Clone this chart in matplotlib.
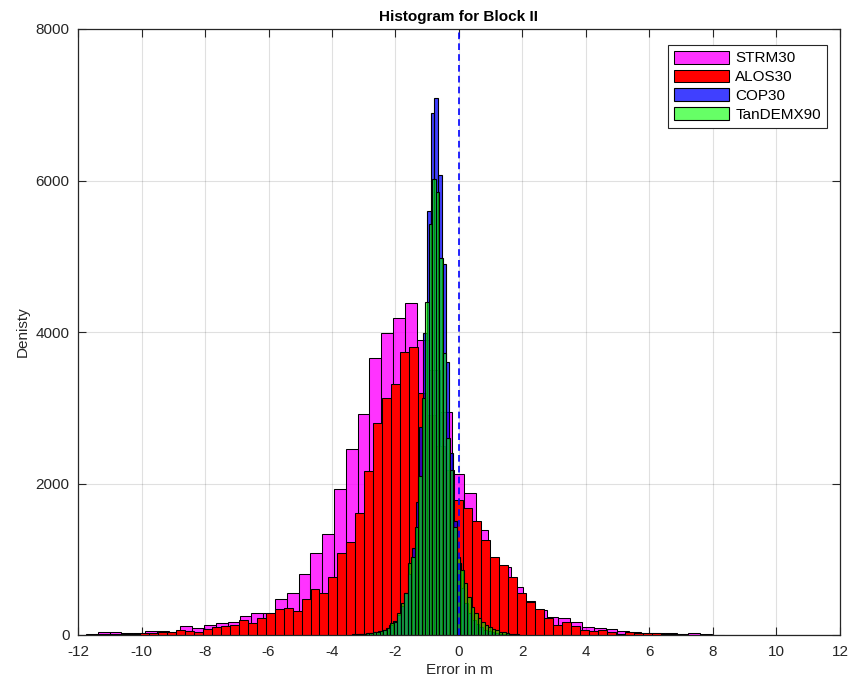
import numpy as np
import matplotlib
matplotlib.use('Agg')
import matplotlib.pyplot as plt

# ---------------- data ----------------
series_names = ['STRM30', 'ALOS30', 'COP30', 'TanDEMX90']

# STRM30 : first bin edge, bin width, counts
strm_start = -11.748
strm_width = 0.372
strm_counts = [13, 35, 35, 30, 30, 57, 57, 44, 119, 88, 132, 154, 176, 251, 286, 295,
               471, 550, 801, 1087, 1333, 1923, 2451, 2913, 3661, 3991, 4180, 4378,
               3894, 3500, 2950, 2125, 1870, 1380, 1000, 900, 640, 450, 330, 240, 220,
               176, 110, 90, 75, 53, 45, 31, 31, 20, 15, 22, 8, 6, 5, 4, 3, 3, 2, 2,
               1, 2, 1, 1]

# ALOS30
alos_start = -11.752
alos_width = 0.283
alos_counts = [6, 8, 10, 12, 15, 18, 20, 30, 40, 44, 60, 57, 40, 75, 101, 119, 132,
               200, 163, 220, 290, 340, 350, 320, 471, 603, 559, 770, 1087, 1232,
               1615, 2165, 2794, 3124, 3313, 3740, 3806, 3190, 2900, 2500, 2178, 1782,
               1672, 1509, 1254, 1026, 924, 770, 559, 440, 339, 220, 132, 176, 119, 66,
               57, 66, 44, 13, 44, 30, 25, 20, 15, 10, 8, 5, 4, 3, 2]

# COP30
cop_start = -3.373
cop_width = 0.118
cop_counts = [8, 10, 12, 15, 20, 28, 38, 50, 70, 95, 130, 180, 260, 380, 560, 800,
              1150, 1750, 2750, 3983, 5597, 6887, 7085, 6073, 4900, 3600, 2400, 1500,
              950, 620, 420, 290, 200, 140, 100, 70, 50, 35, 25, 18, 12, 8, 5]

# TanDEMX90
tdx_start = -3.155
tdx_width = 0.11
tdx_counts = [15, 18, 22, 28, 35, 42, 50, 66, 92, 158, 176, 290, 420, 550, 950, 1030,
              1430, 2100, 3130, 4400, 5426, 6020, 5853, 4981, 3723, 2600, 2178, 1430,
              1034, 858, 682, 506, 374, 286, 224, 170, 130, 100, 80, 60, 45, 35, 25,
              18, 12, 8]

x_ticks = list(range(-12, 13, 2))
y_ticks = [0, 2000, 4000, 6000, 8000]

# ---------------- styling ----------------
plt.rcParams['font.family'] = ['Liberation Sans', 'DejaVu Sans']
plt.rcParams['axes.unicode_minus'] = False
axis_gray = (0.15, 0.15, 0.15)

fig = plt.figure(figsize=(8.53, 6.82), dpi=100)
ax = fig.add_axes([78/853, 47/682, 762/853, 606/682])

styles = [
    (1.0, 0.0, 1.0, 0.8),
    (1.0, 0.0, 0.0, 1.0),
    (0.0, 0.0, 1.0, 0.75),
    (0.0, 1.0, 0.0, 0.6),
]
line_widths = [0.75, 0.75, 0.8, 0.8]
data = [(strm_start, strm_width, strm_counts),
        (alos_start, alos_width, alos_counts),
        (cop_start, cop_width, cop_counts),
        (tdx_start, tdx_width, tdx_counts)]

for name, fc, lw, (start, w, counts) in zip(series_names, styles, line_widths, data):
    edges = start + w * np.arange(len(counts))
    ax.bar(edges, counts, width=w, align='edge', facecolor=fc,
           edgecolor=(0, 0, 0, 1), linewidth=lw, label=name, zorder=2)

ax.axvline(0, color=(0, 0, 1), linestyle=(0, (4, 2.5)), linewidth=1.2, zorder=3)

ax.set_xlim(-12, 12)
ax.set_ylim(0, 8000)
ax.set_xticks(x_ticks)
ax.set_yticks(y_ticks)
ax.grid(True, color=(0, 0, 0), alpha=0.12, linewidth=0.8)
ax.set_axisbelow(True)
ax.tick_params(direction='in', length=5.5, width=0.8, colors=axis_gray,
               labelsize=11, top=True, right=True)
ax.tick_params(axis='x', pad=7)
ax.tick_params(axis='y', pad=6)
for sp in ax.spines.values():
    sp.set_color(axis_gray)
    sp.set_linewidth(0.9)

ax.set_title('Histogram for Block II', fontsize=11, fontweight='bold', pad=6)
ax.set_xlabel('Error in m', fontsize=11, color=axis_gray, labelpad=3)
ax.set_ylabel('Denisty', fontsize=11, color=axis_gray, labelpad=4)

leg = ax.legend(loc='upper right', bbox_to_anchor=((827 - 78) / 762, 0.974), fontsize=11,
                frameon=True, fancybox=False, framealpha=1, edgecolor=axis_gray,
                handlelength=3.6, handleheight=0.9, handletextpad=0.4,
                labelspacing=0.27, borderpad=0.4, borderaxespad=0)
leg.get_frame().set_linewidth(0.8)

fig.savefig('out.png', dpi=100)
